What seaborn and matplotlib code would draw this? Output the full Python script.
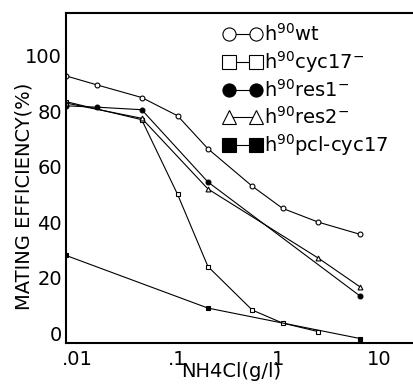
import numpy as np
import pandas as pd
import matplotlib
matplotlib.use("Agg")
import matplotlib.pyplot as plt
import seaborn as sns
from matplotlib.ticker import FixedLocator, FixedFormatter, NullLocator

# NH4Cl concentration (g/l)
wt_x = [0.0078, 0.016, 0.044, 0.1, 0.2, 0.55, 1.1, 2.5, 6.5]
wt_y = [92.8, 89.5, 85, 78.4, 66.5, 53, 45, 40, 35.6]

cyc17_x = [0.0078, 0.044, 0.1, 0.2, 0.55, 1.1, 2.5]
cyc17_y = [83.5, 77, 50, 24, 8.3, 3.6, 0.5]

res1_x = [0.0078, 0.016, 0.044, 0.2, 6.5]
res1_y = [82, 81.5, 80.6, 54.5, 13.3]

res2_x = [0.0078, 0.044, 0.2, 2.5, 6.5]
res2_y = [83, 77.5, 52, 27, 16.6]

pcl_x = [0.0078, 0.2, 6.5]
pcl_y = [28, 9, -2]

x_ticks = [0.01, 0.1, 1, 10]
x_tick_labels = [".01", ".1", "1", "10"]
y_ticks = [0, 20, 40, 60, 80, 100]

labels = [r"h$^{90}$wt", r"h$^{90}$cyc17$^{-}$", r"h$^{90}$res1$^{-}$",
          r"h$^{90}$res2$^{-}$", r"h$^{90}$pcl-cyc17"]

sns.set_theme(style="white")
plt.rcParams["font.family"] = ["DejaVu Sans"]
plt.rcParams["mathtext.default"] = "regular"
plt.rcParams["text.color"] = "black"
plt.rcParams["axes.labelcolor"] = "black"

fig = plt.figure(figsize=(4.13, 3.85), dpi=100)
ax = fig.add_axes([66 / 413, 1 - 343 / 385, 347 / 413, 330 / 385])

series = [
    (wt_x, wt_y, "o", "white"),
    (cyc17_x, cyc17_y, "s", "white"),
    (res1_x, res1_y, "o", "black"),
    (res2_x, res2_y, "^", "white"),
    (pcl_x, pcl_y, "s", "black"),
]

for (xs, ys, mk, fc), lab in zip(series, labels):
    df = pd.DataFrame({"conc": xs, "eff": ys})
    sns.lineplot(data=df, x="conc", y="eff", ax=ax, color="black", lw=0.8,
                 marker=mk, markersize=3.5, markerfacecolor=fc,
                 markeredgecolor="black", markeredgewidth=0.8, label=lab)

ax.set_xscale("log")
ax.set_xlim(0.0078, 21.7)
ax.set_ylim(-3.6, 115.5)

ax.xaxis.set_major_locator(FixedLocator(x_ticks))
ax.xaxis.set_major_formatter(FixedFormatter(x_tick_labels))
ax.xaxis.set_minor_locator(NullLocator())
ax.set_yticks(y_ticks)

ax.tick_params(axis="both", labelsize=14, length=0, colors="black")
ax.tick_params(axis="x", pad=5)
ax.tick_params(axis="y", pad=3)

for side in ["left", "bottom", "top"]:
    ax.spines[side].set_color("black")
    ax.spines[side].set_linewidth(1.5)
ax.spines["right"].set_visible(False)

ax.set_xlabel("NH4Cl(g/l)", fontsize=14, color="black")
ax.xaxis.set_label_coords(0.475, -0.058)
ax.set_ylabel("MATING EFFICIENCY(%)", fontsize=14, color="black")
ax.yaxis.set_label_coords(-0.095, 0.445)

handles, labs = ax.get_legend_handles_labels()
leg = ax.legend(handles, labs, loc="upper left", bbox_to_anchor=(0.43, 0.995),
                frameon=False, numpoints=2, markerscale=2.7, fontsize=14,
                handlelength=2.0, handletextpad=0.1, labelspacing=0.23,
                borderaxespad=0)
for t in leg.get_texts():
    t.set_color("black")

fig.savefig("out.png", dpi=100)
